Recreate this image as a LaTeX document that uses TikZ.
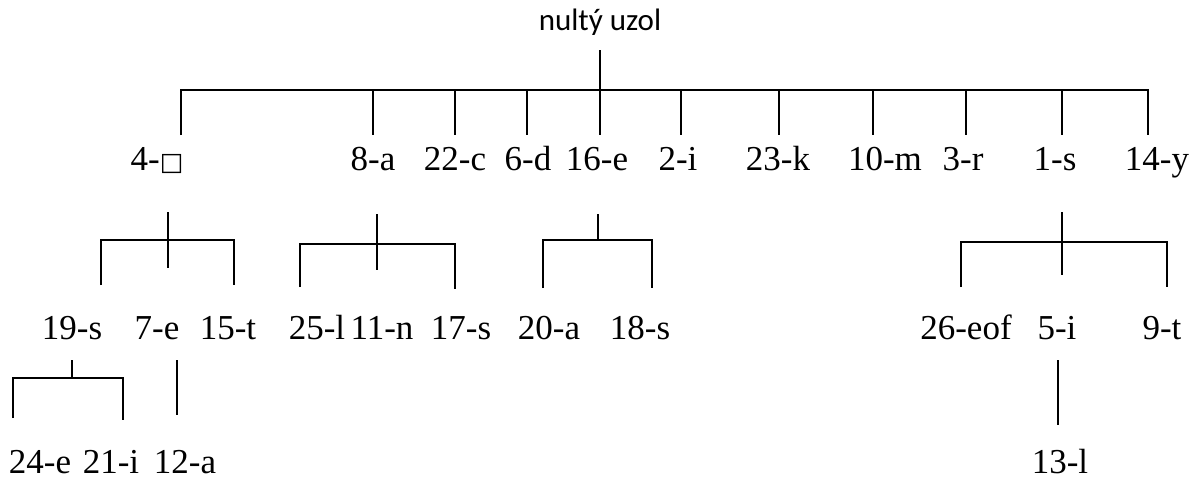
\documentclass[tikz,border=0pt]{standalone}
\usepackage{fontspec}
\setmainfont{Liberation Serif}
\newfontfamily\headfont{Carlito}
\newfontfamily\symfont{DejaVu Sans}
\begin{document}
\begin{tikzpicture}[x=1pt,y=-1pt,
  lbl/.style={font=\fontsize{35}{40}\selectfont, inner sep=0pt, anchor=base},
  head/.style={font=\headfont\fontsize{31}{36}\selectfont, inner sep=0pt, anchor=base},
  edge/.style={line width=2pt, line cap=butt, line join=miter}]
\useasboundingbox (0,0) rectangle (1198,480);

% ---- labels ----
\node[head] (root) at (600,30) {nultý uzol};

\node[lbl] (n4)  at (157,170) {4-{\symfont\fontsize{25}{25}\selectfont □}};
\node[lbl] (n8)  at (373,170) {8-a};
\node[lbl] (n22) at (455,170) {22-c};
\node[lbl] (n6)  at (528,170) {6-d};
\node[lbl] (n16) at (597,170) {16-e};
\node[lbl] (n2)  at (678,170) {2-i};
\node[lbl] (n23) at (778,170) {23-k};
\node[lbl] (n10) at (885,170) {10-m};
\node[lbl] (n3)  at (963,170) {3-r};
\node[lbl] (n1)  at (1055,170) {1-s};
\node[lbl] (n14) at (1157,170) {14-y};

\node[lbl] (n19) at (72,339)  {19-s};
\node[lbl] (n7)  at (157,339) {7-e};
\node[lbl] (n15) at (228,339) {15-t};
\node[lbl] (n25) at (317,339) {25-l};
\node[lbl] (n11) at (382,339) {11-n};
\node[lbl] (n17) at (461,339) {17-s};
\node[lbl] (n20) at (549,339) {20-a};
\node[lbl] (n18) at (640,339) {18-s};
\node[lbl] (n26) at (966,339) {26-eof};
\node[lbl] (n5)  at (1057,339) {5-i};
\node[lbl] (n9)  at (1162,339) {9-t};

\node[lbl] (n24) at (40,473)  {24-e};
\node[lbl] (n21) at (111,473) {21-i};
\node[lbl] (n12) at (185,473) {12-a};
\node[lbl] (n13) at (1060,473) {13-l};

% ---- root bracket ----
\coordinate (r-top) at (600,50);
\draw[edge] (r-top) -- (600,135);
\draw[edge] (181,135) -- (181,90) -- (1148,90) -- (1148,135);
\foreach \x in {373,455,527,681,779,873,966,1062}
  \draw[edge] (\x,90) -- (\x,135);

% ---- bracket under 4-□ ----
\draw[edge] (168,212) -- (168,268);
\draw[edge] (101,285) -- (101,240) -- (234,240) -- (234,285);

% ---- bracket under 8-a ----
\draw[edge] (377,214) -- (377,270);
\draw[edge] (300,287) -- (300,244) -- (455,244) -- (455,289);

% ---- bracket under 16-e ----
\draw[edge] (598,214) -- (598,240);
\draw[edge] (543,288) -- (543,240) -- (652,240) -- (652,288);

% ---- bracket under 1-s ----
\draw[edge] (1062,212) -- (1062,275);
\draw[edge] (961,287) -- (961,242) -- (1167,242) -- (1167,287);

% ---- bracket under 19-s ----
\draw[edge] (72,360) -- (72,378);
\draw[edge] (13,418) -- (13,378) -- (123,378) -- (123,420);

% ---- single links ----
\draw[edge] (177,360) -- (177,415);
\draw[edge] (1058,360) -- (1058,425);
\end{tikzpicture}
\end{document}
